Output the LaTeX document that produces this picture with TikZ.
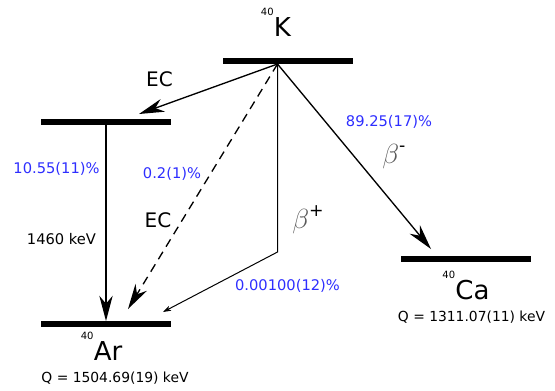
\documentclass[tikz,border=0pt]{standalone}
\usepackage{fontspec}
\setmainfont{DejaVu Sans}
\usepackage{tikz}
\usetikzlibrary{arrows.meta,positioning}
\usepackage{xcolor}
\definecolor{pctblue}{HTML}{2E2EFF}
\newcommand{\iso}[2]{\raisebox{0.78em}{\fontsize{7.5}{8}\selectfont #1}\kern0.2pt#2}
\newcommand{\betalbl}[1]{{\color{black!65}\fontsize{20}{22}\selectfont$\beta$}\raisebox{8.5pt}{\fontsize{13}{14}\selectfont #1}}

\begin{document}
\begin{tikzpicture}[x=0.75pt, y=-0.75pt,
  lvl/.style={rectangle, fill=black, minimum width=97.5pt, minimum height=4pt, inner sep=0pt},
  nuc/.style={anchor=base, inner sep=0pt, font=\fontsize{19.5}{22}\selectfont},
  qval/.style={anchor=base, inner sep=0pt, font=\fontsize{10.4}{12}\selectfont},
  pct/.style={anchor=base, inner sep=0pt, text=pctblue, font=\fontsize{11}{13}\selectfont},
  lbl/.style={anchor=base, inner sep=0pt, font=\fontsize{11}{13}\selectfont},
  mode/.style={anchor=base, inner sep=0pt, font=\fontsize{15}{17}\selectfont},
  arr/.style={line width=1pt, -{Stealth[length=19pt, width=10pt, inset=6pt]}},
  thinarr/.style={line width=0.75pt, -{Stealth[length=6pt, width=4pt, inset=1.5pt]}}
]
  \useasboundingbox (0,0) rectangle (555,390);
  % Levels
  \node[lvl] (kLvl) at (288,61) {};
  \node[lvl] (arExc) at (106,122) {};
  \node[lvl] (arGnd) at (106,324) {};
  \node[lvl] (caLvl) at (466,259) {};
  % Nuclides
  \node[nuc] (kName) at (276,36) {\iso{40}{K}};
  \node[nuc] (arName) at (101.5,360) {\iso{40}{Ar}};
  \node[nuc] (caName) at (466,299) {\iso{40}{Ca}};
  \node[qval] (arQ) at (115,382) {Q = 1504.69(19) keV};
  \node[qval] (caQ) at (471.5,321) {Q = 1311.07(11) keV};
  % Arrow ends
  \coordinate (kTop) at (277.5,64);
  \coordinate (ecTip) at (139,114);
  \coordinate (dashTip) at (128,309);
  \coordinate (bpBend) at (277.5,252);
  \coordinate (bpTip) at (163,312);
  \coordinate (bmTip) at (431,249);
  % Transitions
  \draw[arr] (kTop) -- (ecTip);
  \draw[arr, dash pattern=on 6.5pt off 4.5pt] (kTop) -- (dashTip);
  \draw[arr] (arExc.south) -- (arGnd.north);
  \draw[thinarr] (kTop) -- (bpBend) -- (bpTip);
  \draw[arr] (kTop) -- (bmTip);
  % Labels
  \node[mode] (ecUp) at (159.5,86) {EC};
  \node[mode] (ecLow) at (158,227) {EC};
  \node[pct] (pctGamma) at (56.5,173) {10.55(11)\%};
  \node[pct] (pctEc) at (172,178) {0.2(1)\%};
  \node[lbl] (eGamma) at (61.5,244) {1460 keV};
  \node[pct] (pctBp) at (287.5,290) {0.00100(12)\%};
  \node[pct] (pctBm) at (389,126) {89.25(17)\%};
  \node[anchor=base west, inner sep=0pt] (bmName) at (382,163) {\betalbl{-}};
  \node[anchor=base west, inner sep=0pt] (bpName) at (292,228) {\betalbl{+}};
\end{tikzpicture}
\end{document}
